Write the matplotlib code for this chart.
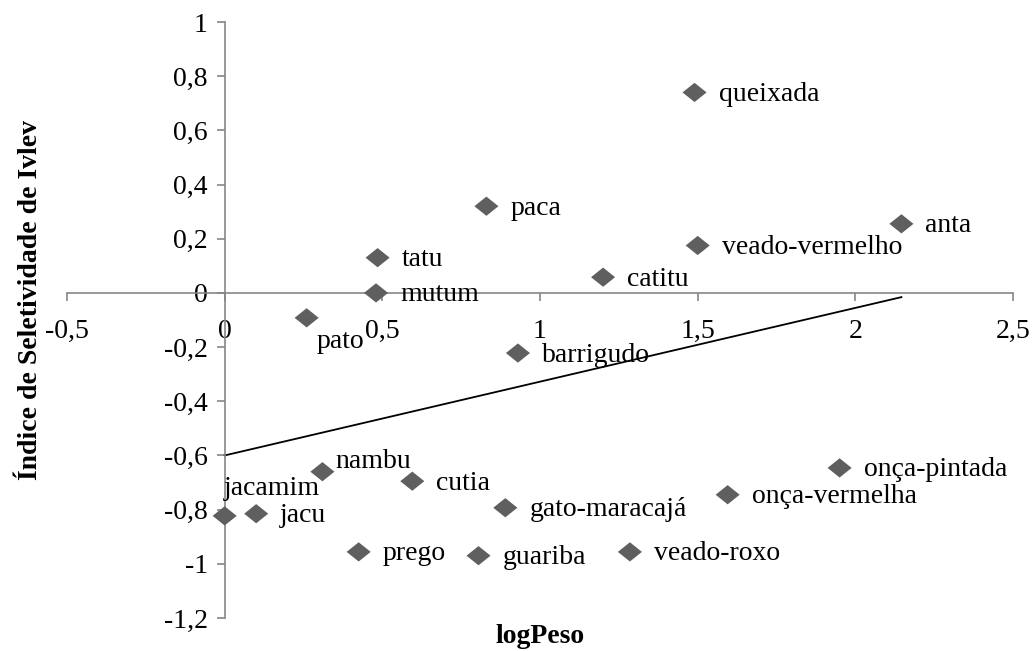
import numpy as np
import matplotlib
matplotlib.use('Agg')
import matplotlib.pyplot as plt
from matplotlib.ticker import FuncFormatter

# dados
especies = ['queixada', 'paca', 'anta', 'veado-vermelho', 'tatu', 'catitu',
            'mutum', 'pato', 'barrigudo', 'nambu', 'cutia', 'onça-pintada',
            'onça-vermelha', 'gato-maracajá', 'jacamim', 'jacu', 'prego',
            'guariba', 'veado-roxo']
log_peso = [1.49, 0.83, 2.146, 1.50, 0.485, 1.20,
            0.48, 0.26, 0.93, 0.31, 0.595, 1.95,
            1.595, 0.89, 0.0, 0.10, 0.425,
            0.805, 1.285]
ivlev = [0.74, 0.32, 0.255, 0.175, 0.13, 0.058,
         0.0, -0.092, -0.222, -0.66, -0.695, -0.646,
         -0.745, -0.793, -0.823, -0.815, -0.956,
         -0.97, -0.956]

x_ticks = [-0.5, 0, 0.5, 1, 1.5, 2, 2.5]
y_ticks = [-1.2, -1, -0.8, -0.6, -0.4, -0.2, 0, 0.2, 0.4, 0.6, 0.8, 1]

# posição dos rótulos (pixels) - padrão à direita do marcador
offset_padrao = (24, -2)
offsets = {
    'pato': (10, -24),
    'jacamim': (-1, 27),
    'nambu': (13, 10),
}

FONTE = ['Liberation Serif', 'DejaVu Serif']
COR_EIXO = '#868686'
COR_PONTO = '#5f5f5f'
# losango um pouco mais largo que alto, como no original
LOSANGO = [(-1.25, 0), (0, 1), (1.25, 0), (0, -1), (-1.25, 0)]


def virgula(v, pos):
    s = f'{v:g}'
    if s == '-0':
        s = '0'
    return s.replace('.', ',')


def main():
    plt.rcParams['font.family'] = FONTE
    fig = plt.figure(figsize=(10.35, 6.51), dpi=100)
    ax = fig.add_axes([0.0647, 0.0507, 0.9141, 0.9155])

    x = np.array(log_peso)
    y = np.array(ivlev)

    # linha de tendência (regressão linear)
    a, b = np.polyfit(x, y, 1)
    xl = np.array([x.min(), x.max()])
    ax.plot(xl, a * xl + b, color='black', lw=1.3, zorder=2)

    ax.scatter(x, y, marker=LOSANGO, s=300, color=COR_PONTO, edgecolor='none', zorder=3)

    for nome, xi, yi in zip(especies, x, y):
        dx, dy = offsets.get(nome, offset_padrao)
        ax.annotate(nome, (xi, yi), xytext=(dx * 0.72, dy * 0.72),
                    textcoords='offset points', ha='left', va='center',
                    fontsize=20, color='black', zorder=4)

    ax.set_xlim(-0.5, 2.5)
    ax.set_ylim(-1.2, 1)
    ax.set_xticks(x_ticks)
    ax.set_yticks(y_ticks)
    ax.xaxis.set_major_formatter(FuncFormatter(virgula))
    ax.yaxis.set_major_formatter(FuncFormatter(virgula))

    ax.spines['left'].set_position(('data', 0))
    ax.spines['bottom'].set_position(('data', 0))
    ax.spines['top'].set_visible(False)
    ax.spines['right'].set_visible(False)
    for sp in ('left', 'bottom'):
        ax.spines[sp].set_color(COR_EIXO)
        ax.spines[sp].set_linewidth(1.2)
    ax.tick_params(axis='both', direction='out', length=6, width=1.2,
                   color=COR_EIXO, labelsize=20, labelcolor='black')
    ax.tick_params(axis='x', pad=13)
    ax.tick_params(axis='y', pad=6)
    ax.patch.set_visible(False)

    fig.text(0.0295, 0.539, 'Índice de Seletividade de Ivlev', rotation=90,
             ha='center', va='center', fontsize=20, fontweight='bold')
    fig.text(0.5217, 0.022, 'logPeso', ha='center', va='center',
             fontsize=20, fontweight='bold')

    fig.savefig('out.png', dpi=100)


if __name__ == '__main__':
    main()
